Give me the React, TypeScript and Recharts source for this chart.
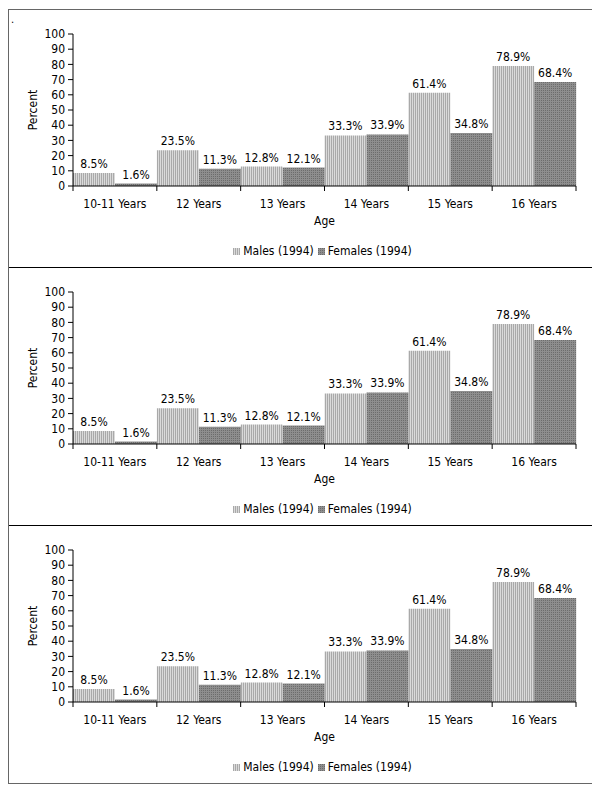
import { BarChart, Bar, XAxis, YAxis, Legend, LabelList } from 'recharts';

const ageGroups = ['10-11 Years', '12 Years', '13 Years', '14 Years', '15 Years', '16 Years'];
const males1994 = [8.5, 23.5, 12.8, 33.3, 61.4, 78.9];
const females1994 = [1.6, 11.3, 12.1, 33.9, 34.8, 68.4];
const percentTicks = [0, 10, 20, 30, 40, 50, 60, 70, 80, 90, 100];

const series = [
  { key: 'males', name: 'Males (1994)', fill: 'url(#malePattern)' },
  { key: 'females', name: 'Females (1994)', fill: 'url(#femalePattern)' },
];

const data = ageGroups.map((age, i) => ({ age, males: males1994[i], females: females1994[i] }));

const FONT = '"DejaVu Sans Condensed", "DejaVu Sans", Verdana, sans-serif';
const FS = 12;
const CHART_W = 583;
const CHART_H = 257;
const MARGIN = { top: 24, right: 16, left: 20, bottom: 8 };
const Y_AXIS_W = 44;
const PLOT_W = CHART_W - MARGIN.left - MARGIN.right - Y_AXIS_W;

function CategoryTick(props: any) {
  const { x, y, payload, index } = props;
  const bw = PLOT_W / ageGroups.length;
  return (
    <g>
      <line x1={x - bw / 2} x2={x - bw / 2} y1={y} y2={y + 5} stroke="#000" />
      {index === ageGroups.length - 1 && (
        <line x1={x + bw / 2} x2={x + bw / 2} y1={y} y2={y + 5} stroke="#000" />
      )}
      <text x={x} y={y + 22} textAnchor="middle" fontSize={FS} fill="#000" fontFamily={FONT}>
        {payload.value}
      </text>
    </g>
  );
}

function LegendBox() {
  return (
    <div style={{ display: 'flex', justifyContent: 'center', fontFamily: FONT, fontSize: FS, lineHeight: '16px', color: '#000' }}>
      {series.map(s => (
        <span key={s.key} style={{ display: 'inline-flex', alignItems: 'center', marginRight: 4 }}>
          <svg width={7} height={7} style={{ marginRight: 3 }}>
            <rect width={7} height={7} fill={s.fill} />
          </svg>
          {s.name}
        </span>
      ))}
    </div>
  );
}

function Panel({ last }: { last: boolean }) {
  return (
    <div style={{ borderBottom: last ? 'none' : '1px solid #000', height: CHART_H }}>
      <BarChart
        width={CHART_W}
        height={CHART_H}
        data={data}
        margin={MARGIN}
        barCategoryGap={0}
        barGap={0}
      >
        <XAxis
          dataKey="age"
          height={57}
          tickSize={0}
          tickMargin={0}
          stroke="#000"
          interval={0}
          tick={<CategoryTick />}
          label={{ value: 'Age', position: 'insideBottom', offset: 18, fontSize: FS, fill: '#000', fontFamily: FONT }}
        />
        <YAxis
          width={Y_AXIS_W}
          domain={[0, 100]}
          ticks={percentTicks}
          interval={0}
          tickSize={5}
          tickMargin={3}
          stroke="#000"
          tick={{ fontSize: FS, fill: '#000', fontFamily: FONT }}
          label={{ value: 'Percent', angle: -90, position: 'center', dx: -18, fontSize: FS, fill: '#000', fontFamily: FONT }}
        />
        <Legend verticalAlign="bottom" wrapperStyle={{ left: MARGIN.left + Y_AXIS_W, width: PLOT_W }} content={<LegendBox />} />
        {series.map(s => (
          <Bar key={s.key} dataKey={s.key} name={s.name} fill={s.fill} isAnimationActive={false}>
            <LabelList
              dataKey={s.key}
              position="top"
              offset={5}
              formatter={(v: any) => `${Number(v).toFixed(1)}%`}
              style={{ fontSize: FS, fill: '#000', fontFamily: FONT }}
            />
          </Bar>
        ))}
      </BarChart>
    </div>
  );
}

export default function App() {
  return (
    <div style={{ position: 'relative', width: 584, marginTop: 1 }}>
      <svg width={0} height={0} style={{ position: 'absolute' }}>
        <defs>
          <pattern id="malePattern" width={2} height={2} patternUnits="userSpaceOnUse">
            <rect width={2} height={2} fill="#dadada" />
            <rect width={1} height={2} fill="#a9a9a9" />
          </pattern>
          <pattern id="femalePattern" width={2} height={2} patternUnits="userSpaceOnUse">
            <rect width={2} height={2} fill="#8e8e8e" />
            <rect width={1} height={1} fill="#6c6c6c" />
          </pattern>
        </defs>
      </svg>
      <div style={{ border: '1px solid #666', width: CHART_W, position: 'relative' }}>
        <span style={{ position: 'absolute', left: 2, top: 4, fontFamily: FONT, fontSize: 11, lineHeight: '11px' }}>.</span>
        <Panel last={false} />
        <Panel last={false} />
        <Panel last={true} />
      </div>
    </div>
  );
}
